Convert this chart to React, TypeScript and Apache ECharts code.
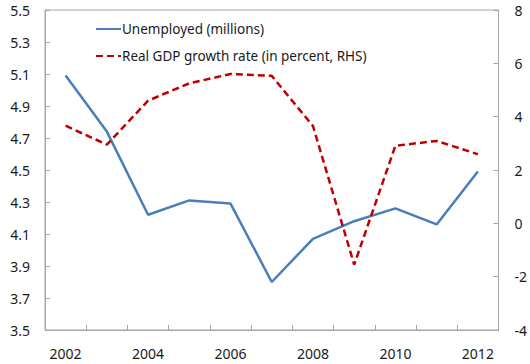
import React, { useEffect, useRef } from "react";
import * as echarts from "echarts";

const years = ["2002", "2003", "2004", "2005", "2006", "2007", "2008", "2009", "2010", "2011", "2012"];
const unemployed = [5.09, 4.74, 4.22, 4.31, 4.29, 3.8, 4.07, 4.18, 4.26, 4.16, 4.49];
const gdpGrowth = [3.66, 2.95, 4.6, 5.25, 5.6, 5.53, 3.65, -1.55, 2.91, 3.09, 2.59];

const FONT = "Noto Sans";
const AXIS_GRAY = "#a6a6a6";
const TEXT = "#1a1a1a";

export default function App() {
  const ref = useRef<HTMLDivElement>(null);
  useEffect(() => {
    document.body.style.margin = "0";
    const chart = echarts.init(ref.current!, null, { renderer: "svg" });
    chart.setOption({
      animation: false,
      textStyle: { fontFamily: FONT },
      grid: {
        left: 45,
        right: 29,
        top: 10,
        bottom: 34,
        show: true,
        borderColor: AXIS_GRAY,
        borderWidth: 1,
        containLabel: false,
      },
      legend: {
        orient: "vertical",
        left: 90,
        top: 17,
        itemWidth: 25,
        itemHeight: 14,
        itemGap: 13,
        itemStyle: { opacity: 0 },
        textStyle: { fontFamily: FONT, fontSize: 13.5, color: TEXT, padding: [0, 0, 0, -4] },
        data: ["Unemployed (millions)", "Real GDP growth rate (in percent, RHS)"],
      },
      xAxis: {
        type: "category",
        data: years,
        boundaryGap: true,
        axisLine: { onZero: false, lineStyle: { color: AXIS_GRAY } },
        axisTick: { show: true, inside: true, length: 5, interval: 0, lineStyle: { color: AXIS_GRAY } },
        axisLabel: { interval: 1, color: TEXT, fontSize: 14, margin: 16, fontFamily: FONT },
        splitLine: { show: false },
      },
      yAxis: [
        {
          type: "value",
          min: 3.5,
          max: 5.5,
          interval: 0.2,
          axisLine: { show: true, onZero: false, lineStyle: { color: AXIS_GRAY } },
          axisTick: { show: true, inside: true, length: 5, lineStyle: { color: AXIS_GRAY } },
          axisLabel: { color: TEXT, fontSize: 14, margin: 15, fontFamily: FONT, formatter: (v: number) => v.toFixed(1) },
          splitLine: { show: false },
        },
        {
          type: "value",
          min: -4,
          max: 8,
          interval: 2,
          position: "right",
          axisLine: { show: true, onZero: false, lineStyle: { color: AXIS_GRAY } },
          axisTick: { show: true, inside: true, length: 5, lineStyle: { color: AXIS_GRAY } },
          axisLabel: { color: TEXT, fontSize: 14, margin: 16, fontFamily: FONT },
          splitLine: { show: false },
        },
      ],
      series: [
        {
          name: "Unemployed (millions)",
          type: "line",
          yAxisIndex: 0,
          data: unemployed,
          symbol: "none",
          lineStyle: { color: "#4a7ebb", width: 2.5 },
          itemStyle: { color: "#4a7ebb" },
        },
        {
          name: "Real GDP growth rate (in percent, RHS)",
          type: "line",
          yAxisIndex: 1,
          data: gdpGrowth,
          symbol: "none",
          lineStyle: { color: "#c00000", width: 2.5, type: [7, 4] },
          itemStyle: { color: "#c00000" },
        },
      ],
    });
    return () => chart.dispose();
  }, []);
  return <div ref={ref} style={{ width: 530, height: 364 }} />;
}
